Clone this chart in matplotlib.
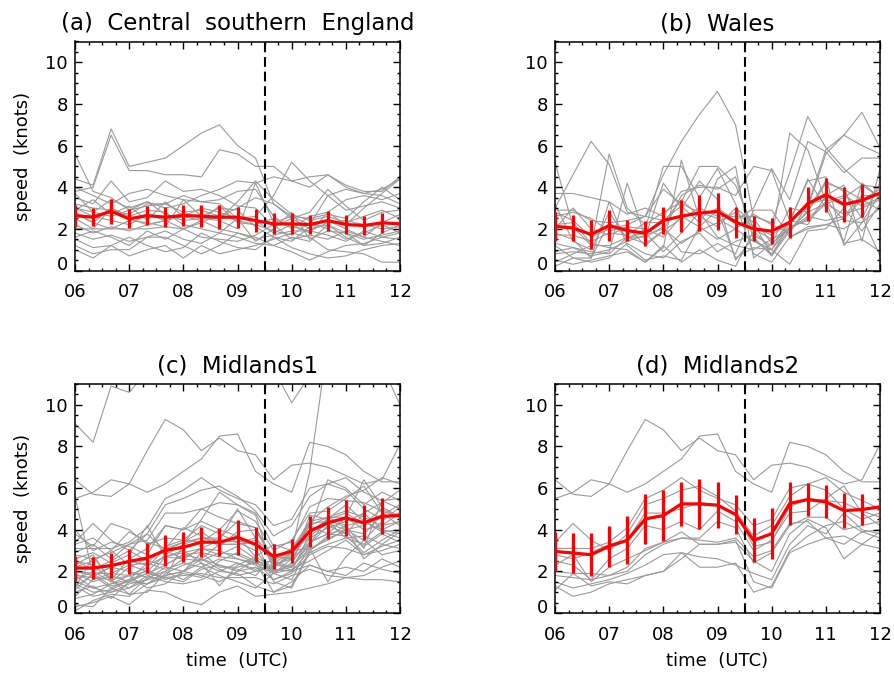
import numpy as np
import matplotlib
matplotlib.use("Agg")
import matplotlib.pyplot as plt
from matplotlib.ticker import MultipleLocator

plt.rcParams['font.family'] = ['DejaVu Sans']

times = ["06:00", "06:20", "06:40", "07:00", "07:20", "07:40", "08:00",
         "08:20", "08:40", "09:00", "09:20", "09:40", "10:00", "10:20",
         "10:40", "11:00", "11:20", "11:40", "12:00"]
hours = [int(t[:2]) + int(t[3:]) / 60 for t in times]

titles = ["(a)  Central  southern  England", "(b)  Wales",
          "(c)  Midlands1", "(d)  Midlands2"]

# station speeds (knots), one list per station
cse_lines = [
    [4.4, 4.1, 6.8, 5.0, 5.2, 5.4, 6.0, 6.6, 7.0, 6.0, 5.4, 3.2, 2.5, 2.0, 2.2, 1.8, 1.5, 1.7, 1.9],
    [3.8, 4.0, 6.5, 4.8, 4.8, 4.6, 4.6, 4.5, 5.8, 5.6, 5.0, 5.0, 4.3, 4.5, 4.6, 4.0, 3.7, 3.9, 4.4],
    [5.6, 3.8, 3.5, 2.9, 3.1, 3.2, 2.8, 2.9, 2.6, 3.0, 3.5, 3.2, 2.6, 2.2, 3.6, 2.9, 3.1, 3.3, 3.0],
    [2.8, 2.3, 3.0, 2.5, 2.2, 2.4, 2.6, 3.0, 2.8, 2.5, 2.6, 3.6, 5.2, 4.3, 3.6, 3.9, 3.7, 3.6, 3.2],
    [3.0, 2.8, 2.6, 2.9, 3.3, 3.0, 3.2, 3.6, 3.9, 4.3, 4.2, 4.5, 4.3, 4.0, 4.6, 4.1, 3.8, 3.8, 4.5],
    [4.0, 3.6, 3.2, 3.7, 3.9, 3.6, 3.4, 3.3, 3.4, 3.8, 3.9, 2.6, 2.0, 2.6, 2.8, 2.2, 3.0, 3.7, 4.4],
    [3.5, 3.2, 4.3, 3.3, 3.5, 4.3, 3.8, 3.9, 3.6, 3.1, 3.0, 2.1, 2.5, 2.8, 3.9, 3.1, 2.4, 2.8, 2.9],
    [3.2, 3.0, 2.9, 2.7, 3.2, 3.2, 3.6, 3.3, 3.2, 2.5, 2.4, 1.8, 2.2, 1.8, 2.8, 3.4, 3.6, 3.4, 3.7],
    [3.0, 2.6, 2.4, 2.2, 2.7, 2.4, 2.8, 2.5, 2.4, 2.0, 4.2, 2.3, 2.6, 2.5, 2.7, 2.5, 3.3, 4.0, 3.4],
    [2.7, 2.3, 2.0, 2.4, 2.3, 2.1, 3.4, 2.6, 3.0, 2.9, 2.1, 1.6, 1.4, 2.1, 2.4, 2.0, 1.6, 2.3, 2.7],
    [2.5, 2.0, 3.0, 2.6, 2.9, 2.8, 2.2, 2.0, 1.8, 2.5, 1.4, 2.0, 2.8, 1.5, 1.9, 1.8, 1.2, 1.8, 2.2],
    [2.2, 1.8, 2.1, 1.9, 2.2, 2.4, 2.0, 2.3, 2.7, 2.4, 2.2, 1.9, 1.7, 2.3, 2.0, 1.5, 1.8, 2.2, 1.8],
    [2.0, 2.0, 2.0, 2.0, 2.0, 2.1, 2.0, 2.4, 2.0, 1.8, 1.5, 1.7, 1.9, 1.9, 1.7, 1.4, 1.9, 1.6, 1.5],
    [1.8, 1.5, 1.7, 1.4, 1.6, 1.9, 1.5, 1.3, 1.8, 1.6, 1.3, 1.2, 1.6, 1.4, 2.2, 1.6, 1.2, 1.3, 1.6],
    [1.5, 1.1, 1.2, 1.6, 1.2, 0.9, 1.1, 1.8, 1.4, 1.1, 1.0, 1.6, 1.1, 0.8, 0.6, 0.7, 1.0, 1.2, 1.3],
    [1.2, 0.8, 1.0, 1.0, 1.6, 1.6, 1.2, 0.8, 1.2, 1.8, 1.6, 1.2, 0.9, 0.5, 0.9, 1.2, 1.3, 1.6, 1.8],
    [1.0, 0.6, 1.2, 0.7, 1.0, 1.2, 0.6, 1.2, 0.8, 1.0, 1.2, 1.5, 1.8, 1.6, 1.0, 0.9, 0.8, 0.4, 0.4],
    [3.7, 2.8, 3.4, 3.0, 3.3, 2.7, 2.4, 2.5, 2.5, 3.3, 4.3, 3.4, 2.7, 2.4, 2.6, 2.3, 2.6, 2.9, 2.5],
    [2.9, 3.4, 2.7, 3.1, 2.4, 3.3, 2.6, 2.4, 3.1, 2.3, 2.2, 2.5, 2.1, 1.9, 2.3, 2.4, 2.2, 2.0, 2.1],
    [1.6, 1.9, 1.6, 1.2, 1.9, 1.5, 2.0, 1.6, 1.5, 1.4, 1.7, 2.2, 1.5, 1.7, 1.5, 1.9, 1.6, 1.4, 1.2],
]
cse_mean = [2.64, 2.56, 2.85, 2.48, 2.64, 2.56, 2.64, 2.61, 2.56, 2.56,
            2.40, 2.24, 2.24, 2.21, 2.40, 2.21, 2.16, 2.29, 2.24]
cse_err = [0.53, 0.44, 0.60, 0.46, 0.44, 0.48, 0.50, 0.52, 0.59, 0.50,
           0.54, 0.50, 0.50, 0.44, 0.48, 0.44, 0.44, 0.48, 0.46]

wales_lines = [
    [2.8, 2.4, 1.6, 2.0, 2.2, 2.6, 4.6, 6.2, 7.5, 8.6, 7.0, 2.5, 1.3, 3.0, 2.8, 4.2, 3.9, 3.4, 3.9],
    [3.0, 4.6, 6.2, 5.1, 2.8, 2.6, 3.9, 3.2, 2.8, 2.5, 2.0, 1.4, 1.0, 2.1, 2.4, 3.2, 2.7, 3.0, 3.4],
    [5.2, 2.1, 1.2, 5.6, 3.0, 2.2, 2.8, 3.3, 5.0, 5.0, 4.1, 2.0, 1.5, 6.6, 5.8, 3.3, 1.3, 1.5, 0.9],
    [1.8, 1.5, 0.6, 2.3, 1.6, 1.3, 1.9, 2.5, 3.0, 2.6, 2.6, 2.6, 2.3, 4.7, 7.4, 5.9, 4.9, 4.1, 3.5],
    [0.8, 0.9, 0.8, 1.0, 1.4, 1.7, 2.0, 1.3, 1.9, 2.3, 2.8, 2.1, 1.7, 2.3, 3.1, 5.8, 6.5, 7.6, 5.9],
    [3.7, 3.7, 3.5, 3.3, 2.7, 3.0, 2.6, 3.8, 4.0, 4.0, 3.6, 5.0, 4.8, 2.4, 3.0, 5.6, 6.5, 6.0, 5.6],
    [2.2, 2.3, 1.3, 1.1, 1.0, 0.4, 1.1, 5.3, 2.5, 3.0, 2.4, 3.0, 4.9, 3.4, 6.2, 5.7, 4.7, 5.4, 5.4],
    [1.2, 0.6, 0.4, 0.6, 1.3, 0.8, 0.6, 1.4, 1.8, 0.9, 1.4, 1.7, 1.2, 2.4, 4.3, 4.5, 1.2, 2.3, 3.7],
    [0.5, 0.3, 0.5, 0.7, 0.9, 0.4, 1.2, 0.4, 1.0, 0.5, 0.2, 1.9, 1.0, 2.4, 2.2, 3.6, 4.1, 1.4, 4.9],
    [0.9, 1.1, 0.9, 0.8, 1.6, 1.6, 2.1, 0.9, 0.8, 1.3, 0.8, 2.9, 2.9, 1.6, 2.0, 2.2, 2.5, 3.4, 2.9],
    [1.7, 1.7, 1.4, 1.8, 1.7, 2.3, 2.3, 3.4, 2.6, 2.1, 3.0, 2.3, 0.7, 1.9, 2.9, 4.3, 3.8, 2.5, 4.2],
    [2.6, 2.8, 2.5, 1.9, 2.1, 1.2, 1.9, 3.6, 4.1, 3.9, 4.5, 1.5, 0.8, 2.0, 2.5, 3.3, 3.6, 3.1, 3.5],
    [3.2, 1.4, 1.0, 2.8, 1.5, 2.0, 5.0, 5.0, 3.5, 4.9, 3.2, 0.8, 0.4, 1.6, 2.1, 2.2, 2.0, 2.6, 0.7],
    [0.2, 0.6, 0.6, 3.3, 1.2, 0.5, 0.7, 0.5, 2.1, 2.9, 0.6, 1.1, 1.0, 0.3, 1.9, 2.0, 3.0, 1.9, 3.2],
    [1.3, 1.1, 0.7, 0.9, 4.2, 1.6, 4.2, 3.0, 4.3, 3.4, 0.5, 1.6, 0.7, 2.3, 4.4, 3.0, 1.4, 4.2, 3.5],
    [2.0, 3.0, 2.0, 1.7, 2.1, 2.0, 1.6, 2.6, 2.1, 1.5, 2.0, 2.7, 2.2, 1.8, 3.2, 3.4, 2.4, 2.3, 3.0],
    [0.4, 0.8, 1.2, 1.2, 1.6, 1.8, 0.9, 1.8, 2.8, 1.6, 1.2, 1.0, 1.5, 2.0, 2.6, 2.4, 2.6, 3.6, 3.6],
    [2.9, 2.9, 2.4, 2.3, 2.4, 2.6, 2.4, 3.1, 2.3, 4.4, 5.0, 0.6, 1.3, 2.0, 2.8, 3.2, 3.5, 4.1, 4.0],
]
wales_mean = [2.12, 2.04, 1.73, 2.16, 1.92, 1.79, 2.40, 2.61, 2.76, 2.84,
              2.32, 2.00, 1.89, 2.32, 3.21, 3.64, 3.17, 3.37, 3.72]
wales_err = [0.70, 0.62, 0.70, 0.75, 0.52, 0.60, 0.67, 0.76, 0.86, 0.90,
             0.75, 0.60, 0.62, 0.74, 0.82, 0.82, 0.84, 0.78, 0.63]

mid2_lines = [
    [6.4, 5.7, 5.6, 6.2, 5.8, 6.2, 6.8, 7.4, 8.5, 8.6, 6.8, 6.2, 5.8, 8.2, 8.0, 7.6, 6.8, 6.3, 6.3],
    [5.5, 5.8, 6.4, 6.2, 7.8, 9.3, 8.8, 7.8, 8.4, 7.8, 7.6, 6.4, 7.1, 7.2, 7.0, 6.6, 6.2, 6.4, 8.1],
    [3.4, 4.3, 3.5, 3.0, 3.8, 5.2, 5.5, 5.9, 6.1, 5.6, 4.9, 3.7, 4.2, 5.6, 6.2, 6.5, 5.8, 5.4, 5.0],
    [3.1, 3.1, 3.1, 3.4, 4.1, 5.5, 5.9, 6.5, 5.9, 5.5, 5.2, 4.2, 4.5, 6.0, 6.2, 5.9, 5.0, 4.5, 4.8],
    [2.8, 2.6, 2.9, 3.3, 3.5, 4.8, 4.8, 5.0, 5.3, 5.2, 4.8, 3.2, 3.4, 5.1, 5.5, 5.4, 5.3, 4.9, 4.6],
    [2.5, 2.3, 1.6, 2.6, 3.1, 4.2, 4.0, 4.4, 4.0, 4.9, 4.4, 3.0, 3.5, 4.8, 4.9, 5.5, 6.1, 4.8, 4.2],
    [2.3, 2.8, 1.5, 2.2, 2.6, 3.0, 3.4, 3.6, 3.6, 4.4, 4.1, 2.4, 2.9, 4.2, 4.6, 4.6, 4.0, 4.2, 4.4],
    [2.0, 1.9, 1.9, 1.8, 2.0, 2.8, 3.3, 3.6, 3.5, 3.4, 3.6, 2.7, 3.0, 4.3, 4.4, 3.6, 3.3, 3.9, 4.0],
    [1.8, 1.7, 1.6, 1.8, 2.2, 3.1, 3.4, 3.9, 3.3, 3.3, 3.4, 2.5, 2.0, 3.8, 4.5, 4.1, 2.6, 3.3, 3.9],
    [1.5, 1.2, 1.4, 1.6, 1.9, 2.3, 2.8, 2.9, 2.7, 2.6, 2.3, 1.9, 1.6, 3.3, 4.2, 3.8, 4.8, 4.0, 3.8],
    [1.3, 0.8, 1.0, 1.4, 1.6, 1.8, 2.0, 2.9, 2.2, 2.2, 2.4, 1.0, 1.3, 3.0, 3.7, 4.2, 4.4, 3.9, 3.6],
    [1.1, 1.9, 1.3, 1.5, 1.4, 1.8, 2.0, 2.6, 3.3, 3.3, 3.5, 1.5, 1.2, 2.9, 3.3, 3.6, 3.7, 3.3, 3.1],
]
mid2_mean = [2.96, 2.88, 2.80, 3.21, 3.49, 4.52, 4.68, 5.24, 5.24, 5.18,
             4.73, 3.49, 3.81, 5.26, 5.45, 5.34, 4.92, 4.97, 5.10]
mid2_err = [0.93, 0.98, 1.02, 0.98, 1.15, 1.19, 1.23, 1.05, 1.20, 1.09,
            0.95, 1.06, 1.24, 1.01, 0.80, 0.80, 0.86, 0.74, 0.84]

# Midlands1 stations not in Midlands2
mid1_extra_lines = [
    [9.1, 8.2, 10.9, 10.6, 11.6, 12.0, 11.8, 11.3, 10.9, 11.5, 12.0, 11.7, 10.1, 11.4, 12.0, 12.0, 11.8, 11.9, 10.0],
    [2.0, 1.8, 2.2, 2.5, 2.3, 2.7, 2.9, 3.1, 3.0, 2.6, 2.4, 2.5, 3.0, 6.8, 13.0, 13.0, 13.0, 13.0, 13.0],
    [0.1, 0.6, 0.9, 0.8, 1.4, 1.7, 1.5, 2.1, 2.3, 2.0, 2.6, 1.9, 2.4, 3.6, 4.1, 4.4, 4.8, 5.3, 5.9],
    [0.4, 0.3, 1.2, 0.9, 1.0, 1.9, 2.3, 2.6, 2.1, 1.8, 2.0, 2.2, 2.8, 4.2, 3.8, 4.0, 3.5, 4.4, 5.1],
    [1.0, 1.3, 0.7, 1.5, 2.1, 1.6, 1.9, 1.7, 2.5, 2.9, 2.5, 1.6, 2.0, 3.0, 3.6, 3.9, 3.2, 3.8, 3.4],
    [1.6, 2.0, 1.5, 1.2, 1.6, 2.2, 2.0, 2.4, 2.0, 2.4, 2.1, 2.3, 2.2, 3.3, 4.6, 4.9, 4.6, 4.2, 4.8],
    [3.3, 3.6, 3.0, 3.9, 3.4, 3.1, 4.1, 3.7, 3.2, 3.9, 4.0, 2.5, 2.2, 3.4, 3.8, 3.7, 2.9, 3.5, 4.0],
    [3.8, 3.2, 4.3, 4.0, 3.3, 3.6, 3.5, 4.2, 3.8, 3.4, 3.0, 1.9, 2.6, 3.9, 4.5, 5.2, 4.4, 4.0, 4.4],
    [2.6, 2.9, 2.4, 2.8, 4.2, 2.7, 2.6, 3.1, 3.5, 5.0, 3.6, 2.3, 2.7, 4.4, 5.1, 5.6, 5.9, 6.5, 6.2],
    [2.2, 2.5, 3.0, 2.3, 2.4, 3.2, 3.5, 3.4, 4.0, 3.7, 2.7, 2.2, 2.9, 3.7, 4.3, 4.0, 3.8, 4.7, 5.2],
    [1.3, 1.8, 2.2, 2.0, 1.7, 2.0, 2.6, 3.1, 2.8, 3.2, 2.6, 2.0, 2.3, 4.7, 4.5, 4.8, 4.3, 5.0, 4.6],
    [0.7, 0.9, 1.4, 1.8, 1.2, 1.4, 2.0, 1.8, 1.5, 2.0, 2.2, 1.6, 1.9, 2.8, 3.2, 3.1, 2.8, 3.2, 3.5],
    [1.9, 1.5, 1.8, 1.5, 1.9, 1.7, 1.8, 1.9, 1.7, 1.7, 1.7, 1.4, 1.8, 2.1, 1.8, 1.7, 1.6, 1.6, 1.5],
    [2.9, 3.3, 2.6, 3.3, 3.8, 3.0, 2.6, 2.5, 2.9, 2.8, 2.4, 2.1, 2.0, 2.3, 2.0, 2.2, 2.0, 2.6, 2.2],
    [0.3, 0.5, 0.8, 0.4, 1.1, 1.0, 0.6, 0.4, 1.0, 1.3, 0.8, 0.9, 1.0, 1.2, 1.4, 1.7, 1.8, 2.2, 2.5],
    [2.5, 2.1, 2.5, 3.0, 2.5, 2.3, 2.8, 2.6, 2.3, 2.1, 1.8, 2.7, 2.6, 4.0, 6.4, 6.0, 5.2, 5.8, 5.4],
    [1.4, 1.0, 1.1, 1.6, 2.4, 2.1, 2.4, 2.2, 2.6, 2.4, 2.0, 2.3, 2.6, 3.4, 3.8, 4.6, 6.4, 5.1, 4.6],
    [4.0, 3.0, 3.4, 3.2, 2.8, 4.2, 4.0, 5.0, 4.6, 4.3, 4.1, 2.6, 3.1, 4.4, 4.6, 4.2, 3.1, 5.4, 5.5],
    [5.6, 1.8, 1.2, 1.6, 1.4, 2.0, 1.6, 2.2, 1.8, 1.5, 1.2, 1.9, 2.1, 2.5, 3.0, 3.5, 2.8, 3.0, 3.3],
    [1.8, 1.2, 1.0, 1.2, 1.8, 1.5, 1.4, 1.6, 2.0, 1.9, 1.3, 1.0, 1.5, 2.3, 2.0, 1.8, 2.4, 2.1, 1.9],
    [0.8, 1.6, 1.9, 2.3, 2.0, 1.7, 3.3, 4.5, 5.8, 5.2, 4.7, 2.0, 2.2, 3.1, 3.5, 4.0, 4.2, 4.6, 4.8],
    [1.2, 2.7, 1.6, 0.9, 1.7, 2.7, 3.0, 2.4, 1.3, 2.3, 2.7, 3.3, 3.0, 3.1, 1.5, 2.7, 3.5, 2.8, 3.0],
]
mid1_mean = [2.16, 2.16, 2.28, 2.48, 2.64, 3.01, 3.16, 3.40, 3.40, 3.64,
             3.29, 2.72, 2.96, 3.93, 4.33, 4.57, 4.33, 4.65, 4.68]
mid1_err = [0.60, 0.52, 0.60, 0.60, 0.74, 0.76, 0.72, 0.72, 0.68, 0.84,
            0.84, 0.60, 0.58, 0.75, 0.78, 0.87, 0.84, 0.87, 0.70]

panels = [
    (cse_lines, cse_mean, cse_err),
    (wales_lines, wales_mean, wales_err),
    (mid1_extra_lines + mid2_lines, mid1_mean, mid1_err),
    (mid2_lines, mid2_mean, mid2_err),
]

W, H = 894, 673
fig = plt.figure(figsize=(W / 100, H / 100), dpi=100)

# axes boxes in pixels: left, top
boxes = [(75, 41.5), (555, 41.5), (75, 384), (555, 384)]
aw, ah = 325, 229

for i, (lines, mean, err) in enumerate(panels):
    left, top = boxes[i]
    ax = fig.add_axes([left / W, (H - top - ah) / H, aw / W, ah / H])

    for line in lines:
        ax.plot(hours, line, color='#9a9a9a', lw=0.8, zorder=1)
    ax.axvline(9.5, color='black', lw=1.5, dashes=(4.7, 2.3), zorder=2)
    ax.plot(hours, mean, color='red', lw=2.3, zorder=3)
    ax.errorbar(hours, mean, yerr=err, fmt='none', ecolor='red',
                elinewidth=2.3, capsize=0, zorder=3)

    ax.set_xlim(6, 12)
    ax.set_ylim(0, 11)
    ax.set_xticks(range(6, 13))
    ax.set_xticklabels(["%02d" % h for h in range(6, 13)])
    ax.set_yticks(range(0, 11, 2))
    ax.xaxis.set_minor_locator(MultipleLocator(0.25))
    ax.yaxis.set_minor_locator(MultipleLocator(0.5))
    ax.tick_params(which='both', direction='in', top=True, right=True,
                   labelsize=13, width=1)
    ax.tick_params(axis='x', which='major', length=5, pad=9)
    ax.tick_params(axis='y', which='major', length=5, pad=5)
    ax.tick_params(which='minor', length=2.2)
    for s in ax.spines.values():
        s.set_linewidth(1.1)

    # the 0 label sits on the bottom axis line
    ax.get_yticklabels()[0].set_verticalalignment('baseline')

    ax.set_title(titles[i], fontsize=16.5, pad=8)
    if i % 2 == 0:
        ax.set_ylabel("speed  (knots)", fontsize=13, labelpad=10)
    if i >= 2:
        ax.set_xlabel("time  (UTC)", fontsize=13, labelpad=6)

fig.savefig("out.png", dpi=100)
